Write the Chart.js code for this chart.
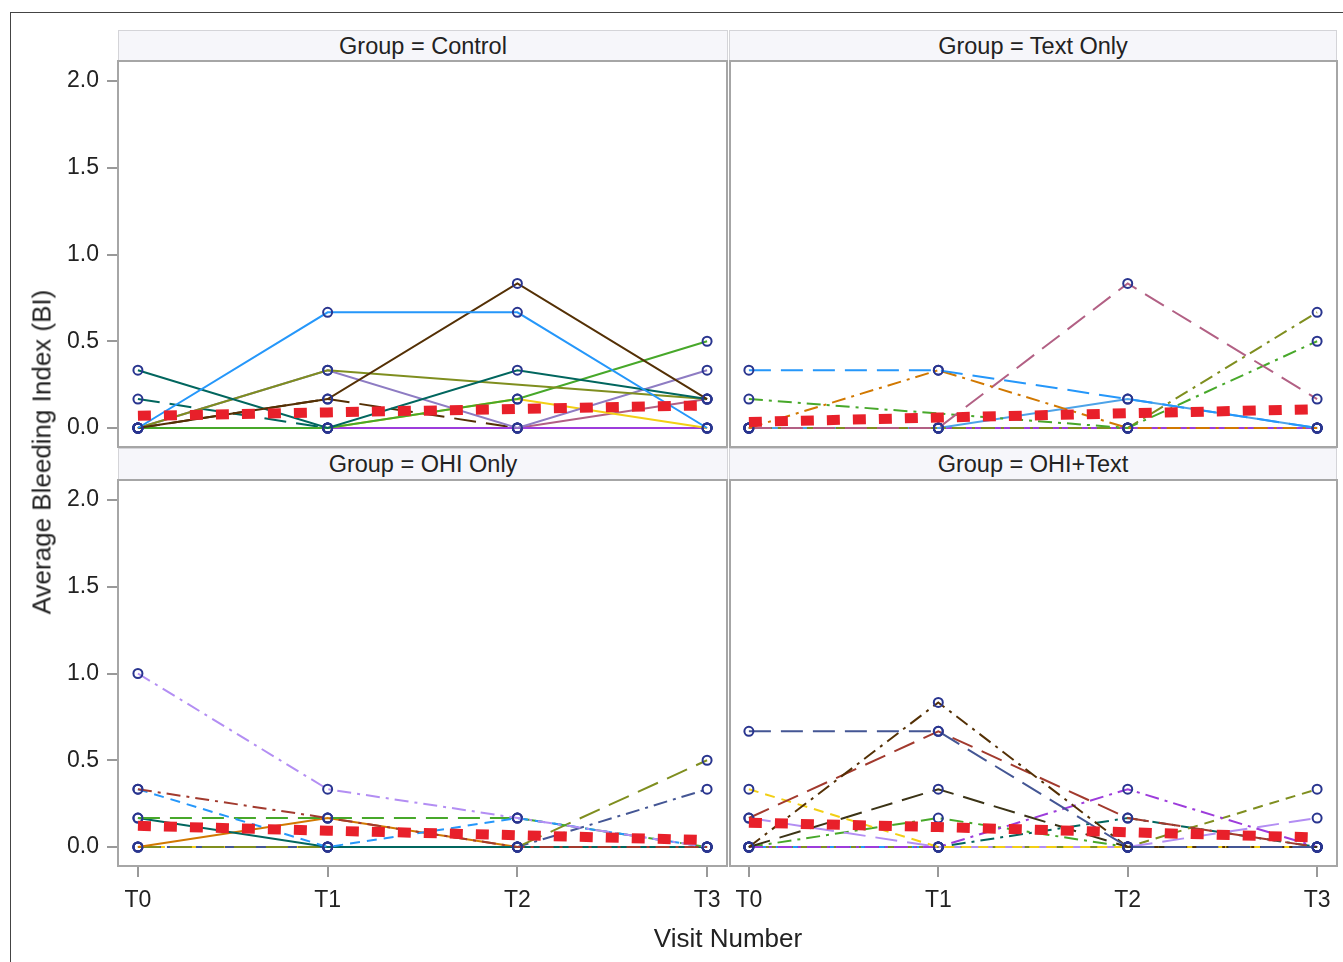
<!DOCTYPE html>
<html>
<head>
<meta charset="utf-8">
<script src="https://cdn.jsdelivr.net/npm/chart.js@4/dist/chart.umd.min.js"></script>
<style>
    body { margin: 0; background: #fff; font-family: "Liberation Sans", Arial, sans-serif; }
    #page { position: relative; width: 1343px; height: 962px; overflow: hidden; }
    .box { position: absolute; }
    .outer { left: 10px; top: 12px; width: 1345px; height: 965px; border: 1.5px solid #444; }
    .strip { background: #f6f6fa; border: 1px solid #d4d4d8; box-sizing: border-box; text-align: center;
             font-size: 23.5px; color: #222; line-height: 30px; }
    .frame { border: 2px solid #a6a6a6; box-sizing: border-box; pointer-events: none; z-index: 5; }
    .title { font-size: 26px; color: #222; white-space: nowrap; }
</style>
</head>
<body>
<div id="page">
    <div class="box outer"></div>

    <div class="box strip" style="left:118px; top:30px; width:610px; height:31px;">Group = Control</div>
    <div class="box strip" style="left:729px; top:30px; width:608px; height:31px;">Group = Text Only</div>
    <div class="box strip" style="left:118px; top:448px; width:610px; height:32px;">Group = OHI Only</div>
    <div class="box strip" style="left:729px; top:448px; width:608px; height:32px;">Group = OHI+Text</div>

    <div class="box" style="left:40px; top:61px;"><canvas id="control" width="687" height="386"></canvas></div>
    <div class="box" style="left:729px; top:61px;"><canvas id="textOnly" width="608" height="386"></canvas></div>
    <div class="box" style="left:40px; top:480px;"><canvas id="ohiOnly" width="687" height="446"></canvas></div>
    <div class="box" style="left:729px; top:480px;"><canvas id="ohiText" width="608" height="446"></canvas></div>

    <div class="box frame" style="left:117px; top:60px; width:611px; height:388px;"></div>
    <div class="box frame" style="left:729px; top:60px; width:609px; height:388px;"></div>
    <div class="box frame" style="left:117px; top:479px; width:611px; height:388px;"></div>
    <div class="box frame" style="left:729px; top:479px; width:609px; height:388px;"></div>

    <div class="box title" style="left:42px; top:452px; transform: translate(-50%, -50%) rotate(-90deg);">Average Bleeding Index (BI)</div>
    <div class="box title" style="left:728px; top:938px; transform: translate(-50%, -50%);">Visit Number</div>
</div>

<script>
// Categories and tick values
const visits = ['T0', 'T1', 'T2', 'T3'];
const yTicks = [0, 0.5, 1.0, 1.5, 2.0];

// Individual subject values per group (BI, null = missing visit)
const controlValues = [
    [0, 0.667, 0.667, 0],
    [0, 0.167, 0.833, 0.167],
    [0.333, 0, 0.333, 0.167],
    [0, 0.333, null, 0.167],
    [0, 0.333, 0, 0.333],
    [0, 0, 0.167, 0.5],
    [0, 0, 0.167, 0],
    [0, 0, 0, 0],
    [0, 0, 0, 0.167],
    [0, 0.167, 0, 0],
    [0.167, 0, 0, 0]
];
const textOnlyValues = [
    [0.333, 0.333, 0.167, 0],
    [0, 0.333, 0, 0],
    [0, 0, 0.833, 0.167],
    [0.167, null, 0, 0.5],
    [0, 0, 0, 0.667],
    [0, 0, 0.167, 0],
    [0, 0, 0, 0],
    [0, 0, 0, 0],
    [0, 0, 0, 0]
];
const ohiOnlyValues = [
    [1.0, 0.333, 0.167, 0],
    [0.333, 0.167, 0, 0],
    [0.333, 0, 0.167, 0],
    [0.167, 0.167, 0.167, 0],
    [0.167, 0, 0, 0],
    [0, 0.167, 0, 0],
    [0, 0, 0, 0.5],
    [0, 0, 0, 0.333],
    [0, 0, 0, 0]
];
const ohiTextValues = [
    [0.667, 0.667, 0, 0],
    [0, 0.833, 0, 0],
    [0.167, 0.667, 0.167, 0],
    [0.333, 0, 0, 0],
    [0, 0.333, 0, 0],
    [0, 0, 0.333, 0],
    [0.167, 0, 0, 0.167],
    [0, 0, 0, 0.333],
    [0, 0.167, 0, 0],
    [0, 0, 0.167, 0],
    [0, 0, 0, 0]
];

// Group mean trend (thick red dashed line)
const controlMean = [0.07, 0.09, 0.11, 0.13];
const textOnlyMean = [0.035, 0.06, 0.085, 0.108];
const ohiOnlyMean = [0.122, 0.094, 0.068, 0.04];
const ohiTextMean = [0.14, 0.115, 0.085, 0.055];

// Line styles
const dashes = {
    solid: [],
    dash: [10, 7],
    longDash: [22, 10],
    dashDot: [14, 6, 3, 6]
};
const controlColors = ['#2597fa', '#543005', '#01665e', '#7f8e1f', '#8e7cc3', '#47a82a', '#f2cf14', '#9d3cdb', '#b26084', '#543005', '#01665e'];
const controlDash = ['solid', 'solid', 'solid', 'solid', 'solid', 'solid', 'solid', 'solid', 'solid', 'longDash', 'longDash'];
const textOnlyColors = ['#2597fa', '#d17800', '#b26084', '#47a82a', '#7f8e1f', '#4da3e8', '#9d3cdb', '#f2cf14', '#543005'];
const textOnlyDash = ['longDash', 'dashDot', 'longDash', 'dashDot', 'dashDot', 'solid', 'solid', 'dash', 'longDash'];
const ohiOnlyColors = ['#b38ef3', '#a23a2e', '#2597fa', '#47a82a', '#01665e', '#d17800', '#7f8e1f', '#445694', '#f2cf14'];
const ohiOnlyDash = ['dashDot', 'dashDot', 'dash', 'longDash', 'solid', 'solid', 'longDash', 'dashDot', 'dash'];
const ohiTextColors = ['#445694', '#543005', '#a23a2e', '#f2cf14', '#3b3316', '#9d3cdb', '#b38ef3', '#7f8e1f', '#47a82a', '#01665e', '#2597fa'];
const ohiTextDash = ['longDash', 'dashDot', 'longDash', 'dash', 'longDash', 'dashDot', 'longDash', 'dash', 'dashDot', 'dashDot', 'solid'];

const markerColor = '#29358f';
const tickFont = { family: '"Liberation Sans", Arial, sans-serif', size: 23 };

function toPoints(values) {
    return values.map((v, i) => ({ x: i, y: v }));
}

function buildDatasets(values, colors, dashNames, mean) {
    const sets = [{
        data: toPoints(mean),
        borderColor: '#e8202a',
        borderWidth: 10,
        borderDash: [13, 13],
        borderCapStyle: 'butt',
        pointRadius: 0,
        order: 0
    }];
    values.forEach((row, i) => {
        sets.push({
            data: toPoints(row),
            borderColor: colors[i],
            borderWidth: 2,
            borderDash: dashes[dashNames[i]],
            spanGaps: true,
            pointRadius: 4.5,
            pointBorderWidth: 2,
            pointBorderColor: markerColor,
            pointBackgroundColor: 'rgba(255,255,255,0)',
            order: 1
        });
    });
    return sets;
}

// keep the plot area fixed: no label padding added by Chart.js
function noPadding(s) {
    s.paddingTop = 0;
    s.paddingBottom = 0;
    s.paddingLeft = 0;
    s.paddingRight = 0;
}

function makePanel(id, datasets, showY, showX) {
    const ctx = document.getElementById(id).getContext('2d');
    return new Chart(ctx, {
        type: 'line',
        data: { datasets: datasets },
        options: {
            responsive: false,
            animation: false,
            layout: { padding: 0, autoPadding: false },
            plugins: { legend: { display: false }, tooltip: { enabled: false } },
            elements: { line: { tension: 0 } },
            scales: {
                x: {
                    type: 'linear',
                    min: -0.105,
                    max: 3.105,
                    display: showX,
                    afterBuildTicks: s => { s.ticks = visits.map((v, i) => ({ value: i })); },
                    afterFit: s => { if (showX) s.height = 60; noPadding(s); },
                    ticks: {
                        autoSkip: false,
                        maxRotation: 0,
                        padding: 10,
                        color: '#222',
                        font: tickFont,
                        callback: v => visits[v]
                    },
                    grid: { drawOnChartArea: false, drawTicks: true, tickLength: 11, color: '#999', lineWidth: 2 },
                    border: { display: false }
                },
                y: {
                    type: 'linear',
                    min: -0.1095,
                    max: 2.1153,
                    display: showY,
                    afterBuildTicks: s => { s.ticks = yTicks.map(v => ({ value: v })); },
                    afterFit: s => { if (showY) s.width = 78; noPadding(s); },
                    ticks: {
                        padding: 8,
                        color: '#222',
                        font: tickFont,
                        callback: v => v.toFixed(1)
                    },
                    grid: { drawOnChartArea: false, drawTicks: true, tickLength: 11, color: '#999', lineWidth: 2 },
                    border: { display: false }
                }
            }
        }
    });
}

makePanel('control', buildDatasets(controlValues, controlColors, controlDash, controlMean), true, false);
makePanel('textOnly', buildDatasets(textOnlyValues, textOnlyColors, textOnlyDash, textOnlyMean), false, false);
makePanel('ohiOnly', buildDatasets(ohiOnlyValues, ohiOnlyColors, ohiOnlyDash, ohiOnlyMean), true, true);
makePanel('ohiText', buildDatasets(ohiTextValues, ohiTextColors, ohiTextDash, ohiTextMean), false, true);
</script>
</body>
</html>
